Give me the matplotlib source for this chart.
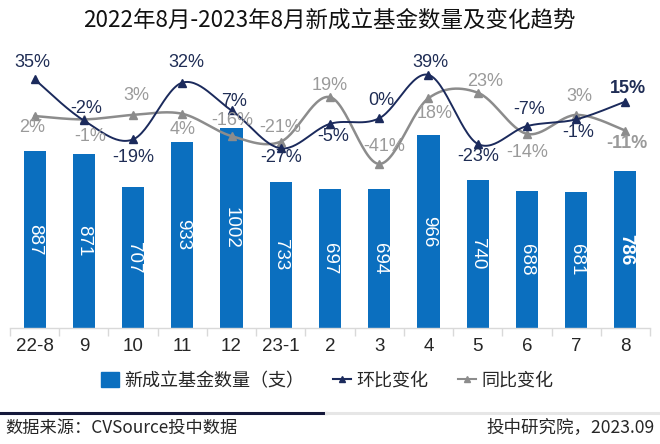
import numpy as np
import matplotlib
matplotlib.use("Agg")
import matplotlib.pyplot as plt
from matplotlib.patches import Patch
from matplotlib.lines import Line2D

plt.rcParams['font.family'] = ['Liberation Sans', 'Noto Sans CJK SC', 'DejaVu Sans']

categories = ["22-8", "9", "10", "11", "12", "23-1", "2", "3", "4", "5", "6", "7", "8"]
fund_counts = [887, 871, 707, 933, 1002, 733, 697, 694, 966, 740, 688, 681, 786]
mom_pct = [35, -2, -19, 32, 7, -27, -5, 0, 39, -23, -7, -1, 15]
yoy_pct = [2, -1, 3, 4, -16, -21, 19, -41, 18, 23, -14, 3, -11]

title = "2022年8月-2023年8月新成立基金数量及变化趋势"
legend_labels = ["新成立基金数量（支）", "环比变化", "同比变化"]
source_text = "数据来源：CVSource投中数据"
credit_text = "投中研究院，2023.09"

# label offsets in pixels (dx, dy with dy positive = downward)
mom_off = [(-2, -17), (2, -12), (0, 18), (4, -20), (3, -9), (0, 9), (3, 13), (2, -18),
           (2, -12), (0, 13), (2, -17), (2, 13), (3, -13)]
yoy_off = [(-2, 11), (6, 17), (3, -19), (0, 16), (1, -16), (-1, -14), (0, -12), (5, -17),
           (6, 15), (7, -11), (0, 19), (3, -18), (1, 13)]

BAR = "#0b6fbf"
NAVY = "#1b2a5c"
GRAY = "#8c8c8c"
NAVY_T = "#1f2d55"
GRAY_T = "#9a9a9a"

def smooth(x, y, n=30):
    x = np.asarray(x, float); y = np.asarray(y, float)
    P = np.column_stack([x, y])
    Pe = np.vstack([P[0], P, P[-1]])
    out = [P[:1]]
    t = np.linspace(0, 1, n)[1:, None]
    for i in range(len(P) - 1):
        p0, p1, p2, p3 = Pe[i], Pe[i + 1], Pe[i + 2], Pe[i + 3]
        c1 = p1 + (p2 - p0) / 6.0
        c2 = p2 - (p3 - p1) / 6.0
        seg = ((1 - t) ** 3) * p1 + 3 * ((1 - t) ** 2) * t * c1 + 3 * (1 - t) * t ** 2 * c2 + t ** 3 * p2
        out.append(seg)
    Q = np.vstack(out)
    return Q[:, 0], Q[:, 1]

W, H = 660, 444
fig = plt.figure(figsize=(W / 100, H / 100), dpi=100)
ax_l, ax_r, ax_b, ax_t = 10, 650, 328, 40
ax = fig.add_axes([ax_l / W, (H - ax_b) / H, (ax_r - ax_l) / W, (ax_b - ax_t) / H])
x = np.arange(len(categories))
bars = ax.bar(x, fund_counts, width=0.45, color=BAR, zorder=2)
ax.set_xlim(-0.5, len(categories) - 0.5)
ax.set_ylim(0, 1443)
ax.set_yticks([])
for s in ["top", "right", "left"]:
    ax.spines[s].set_visible(False)
ax.spines["bottom"].set_color("#d9d9d9")
ax.spines["bottom"].set_linewidth(1.0)
ax.set_xticks(x)
ax.set_xticklabels(categories, fontsize=13.5, color="#262626")
ax.tick_params(axis="x", length=0, pad=7)
ax.set_xticks(np.arange(-0.5, len(categories), 1.0), minor=True)
ax.tick_params(axis="x", which="minor", length=6, color="#d9d9d9", width=1)

for i, v in enumerate(fund_counts):
    ax.text(x[i], v / 2, str(v), rotation=270, ha="center", va="center",
            color="white", fontsize=13.5, fontweight="bold" if i == len(fund_counts) - 1 else "normal",
            zorder=3)

ax2 = ax.twinx()
ax2.set_ylim(-188.4, 70.3)
ax2.set_yticks([])
for s in ["top", "right", "left", "bottom"]:
    ax2.spines[s].set_visible(False)

sx, sy = smooth(x, yoy_pct)
ax2.plot(sx, sy, color=GRAY, lw=1.8, zorder=4)
ax2.plot(x, yoy_pct, ls="none", marker="^", ms=6, color=GRAY, zorder=4)
sx, sy = smooth(x, mom_pct)
ax2.plot(sx, sy, color=NAVY, lw=1.4, zorder=5)
ax2.plot(x, mom_pct, ls="none", marker="^", ms=6, color=NAVY, zorder=5)

k = 72 / 100.0
last = len(categories) - 1
for i, v in enumerate(yoy_pct):
    dx, dy = yoy_off[i]
    ax2.annotate(f"{v}%", (x[i], v), xytext=(dx * k, -dy * k), textcoords="offset points",
                 ha="center", va="center", fontsize=13, color=GRAY_T,
                 fontweight="bold" if i == last else "normal", zorder=6)
for i, v in enumerate(mom_pct):
    dx, dy = mom_off[i]
    ax2.annotate(f"{v}%", (x[i], v), xytext=(dx * k, -dy * k), textcoords="offset points",
                 ha="center", va="center", fontsize=13, color=NAVY_T,
                 fontweight="bold" if i == last else "normal", zorder=7)

fig.text(329 / W, 1 - 20 / H, title, ha="center", va="center", fontsize=16.2,
         family=["Noto Sans CJK SC", "DejaVu Sans"], color="#111111")

handles = [Patch(facecolor=BAR, edgecolor=BAR),
           Line2D([0], [0], color=NAVY, lw=1.5, marker="^", ms=5),
           Line2D([0], [0], color=GRAY, lw=1.5, marker="^", ms=5)]
leg = fig.legend(handles, legend_labels, loc="center", bbox_to_anchor=(327 / W, 1 - 381 / H),
                 ncol=3, frameon=False, prop={"family": ["Noto Sans CJK SC", "DejaVu Sans"], "size": 13},
                 handlelength=1.0, handletextpad=0.3, columnspacing=1.6, handleheight=0.9)
for t in leg.get_texts():
    t.set_color("#262626")

fig.add_artist(Line2D([0, 326 / W], [1 - 413 / H] * 2, color="#14183a", lw=2.2, transform=fig.transFigure))
fig.add_artist(Line2D([326 / W, 1], [1 - 413 / H] * 2, color="#e6e6e6", lw=2.2, transform=fig.transFigure))
fig.text(5 / W, 1 - 428 / H, source_text, ha="left", va="center", fontsize=12.4,
         family=["Noto Sans CJK SC", "DejaVu Sans"], color="#262626")
fig.text(655 / W, 1 - 428 / H, credit_text, ha="right", va="center", fontsize=12.6,
         family=["Noto Sans CJK SC", "DejaVu Sans"], color="#262626")

fig.savefig("out.png", dpi=100)
